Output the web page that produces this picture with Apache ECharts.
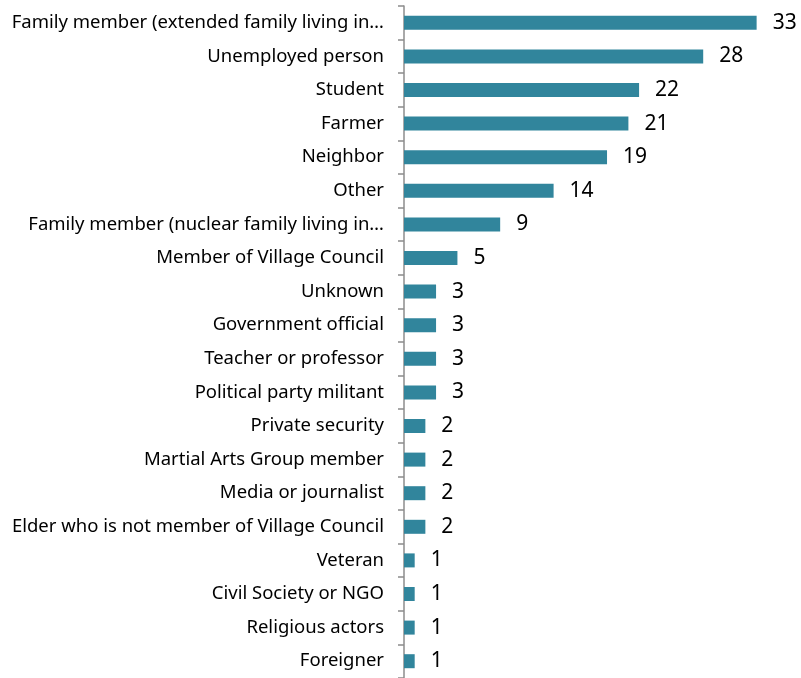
<!DOCTYPE html>
<html>
<head>
<meta charset="utf-8">
<script src="https://cdn.jsdelivr.net/npm/echarts@6/dist/echarts.min.js"></script>
<style>
  html, body { margin: 0; padding: 0; background: #fff; }
  #main { width: 801px; height: 678px; }
</style>
</head>
<body>
<div id="main"></div>
<script>
var categories = [
    'Family member (extended family living in…',
    'Unemployed person',
    'Student',
    'Farmer',
    'Neighbor',
    'Other',
    'Family member (nuclear family living in…',
    'Member of Village Council',
    'Unknown',
    'Government official',
    'Teacher or professor',
    'Political party militant',
    'Private security',
    'Martial Arts Group member',
    'Media or journalist',
    'Elder who is not member of Village Council',
    'Veteran',
    'Civil Society or NGO',
    'Religious actors',
    'Foreigner'
];
var counts = [33, 28, 22, 21, 19, 14, 9, 5, 3, 3, 3, 3, 2, 2, 2, 2, 1, 1, 1, 1];

var myChart = echarts.init(document.getElementById('main'));

var option = {
    animation: false,
    grid: {
        left: 404,
        right: 23,
        top: 6,
        bottom: 0,
        containLabel: false
    },
    xAxis: {
        type: 'value',
        min: 0,
        max: 35,
        show: false
    },
    yAxis: {
        type: 'category',
        inverse: true,
        data: categories,
        axisLine: { show: true, lineStyle: { color: '#8c8c8c', width: 1.5 } },
        axisTick: { show: true, length: 6, lineStyle: { color: '#8c8c8c', width: 1.5 } },
        axisLabel: {
            margin: 20,
            fontFamily: 'Noto Sans',
            fontSize: 18.5,
            color: '#000'
        }
    },
    series: [
        {
            type: 'bar',
            data: counts,
            barWidth: 14,
            itemStyle: { color: '#31859c' },
            label: {
                show: true,
                position: 'right',
                distance: 16,
                fontFamily: 'Noto Sans',
                fontSize: 21,
                color: '#000'
            }
        }
    ]
};

myChart.setOption(option);
</script>
</body>
</html>
